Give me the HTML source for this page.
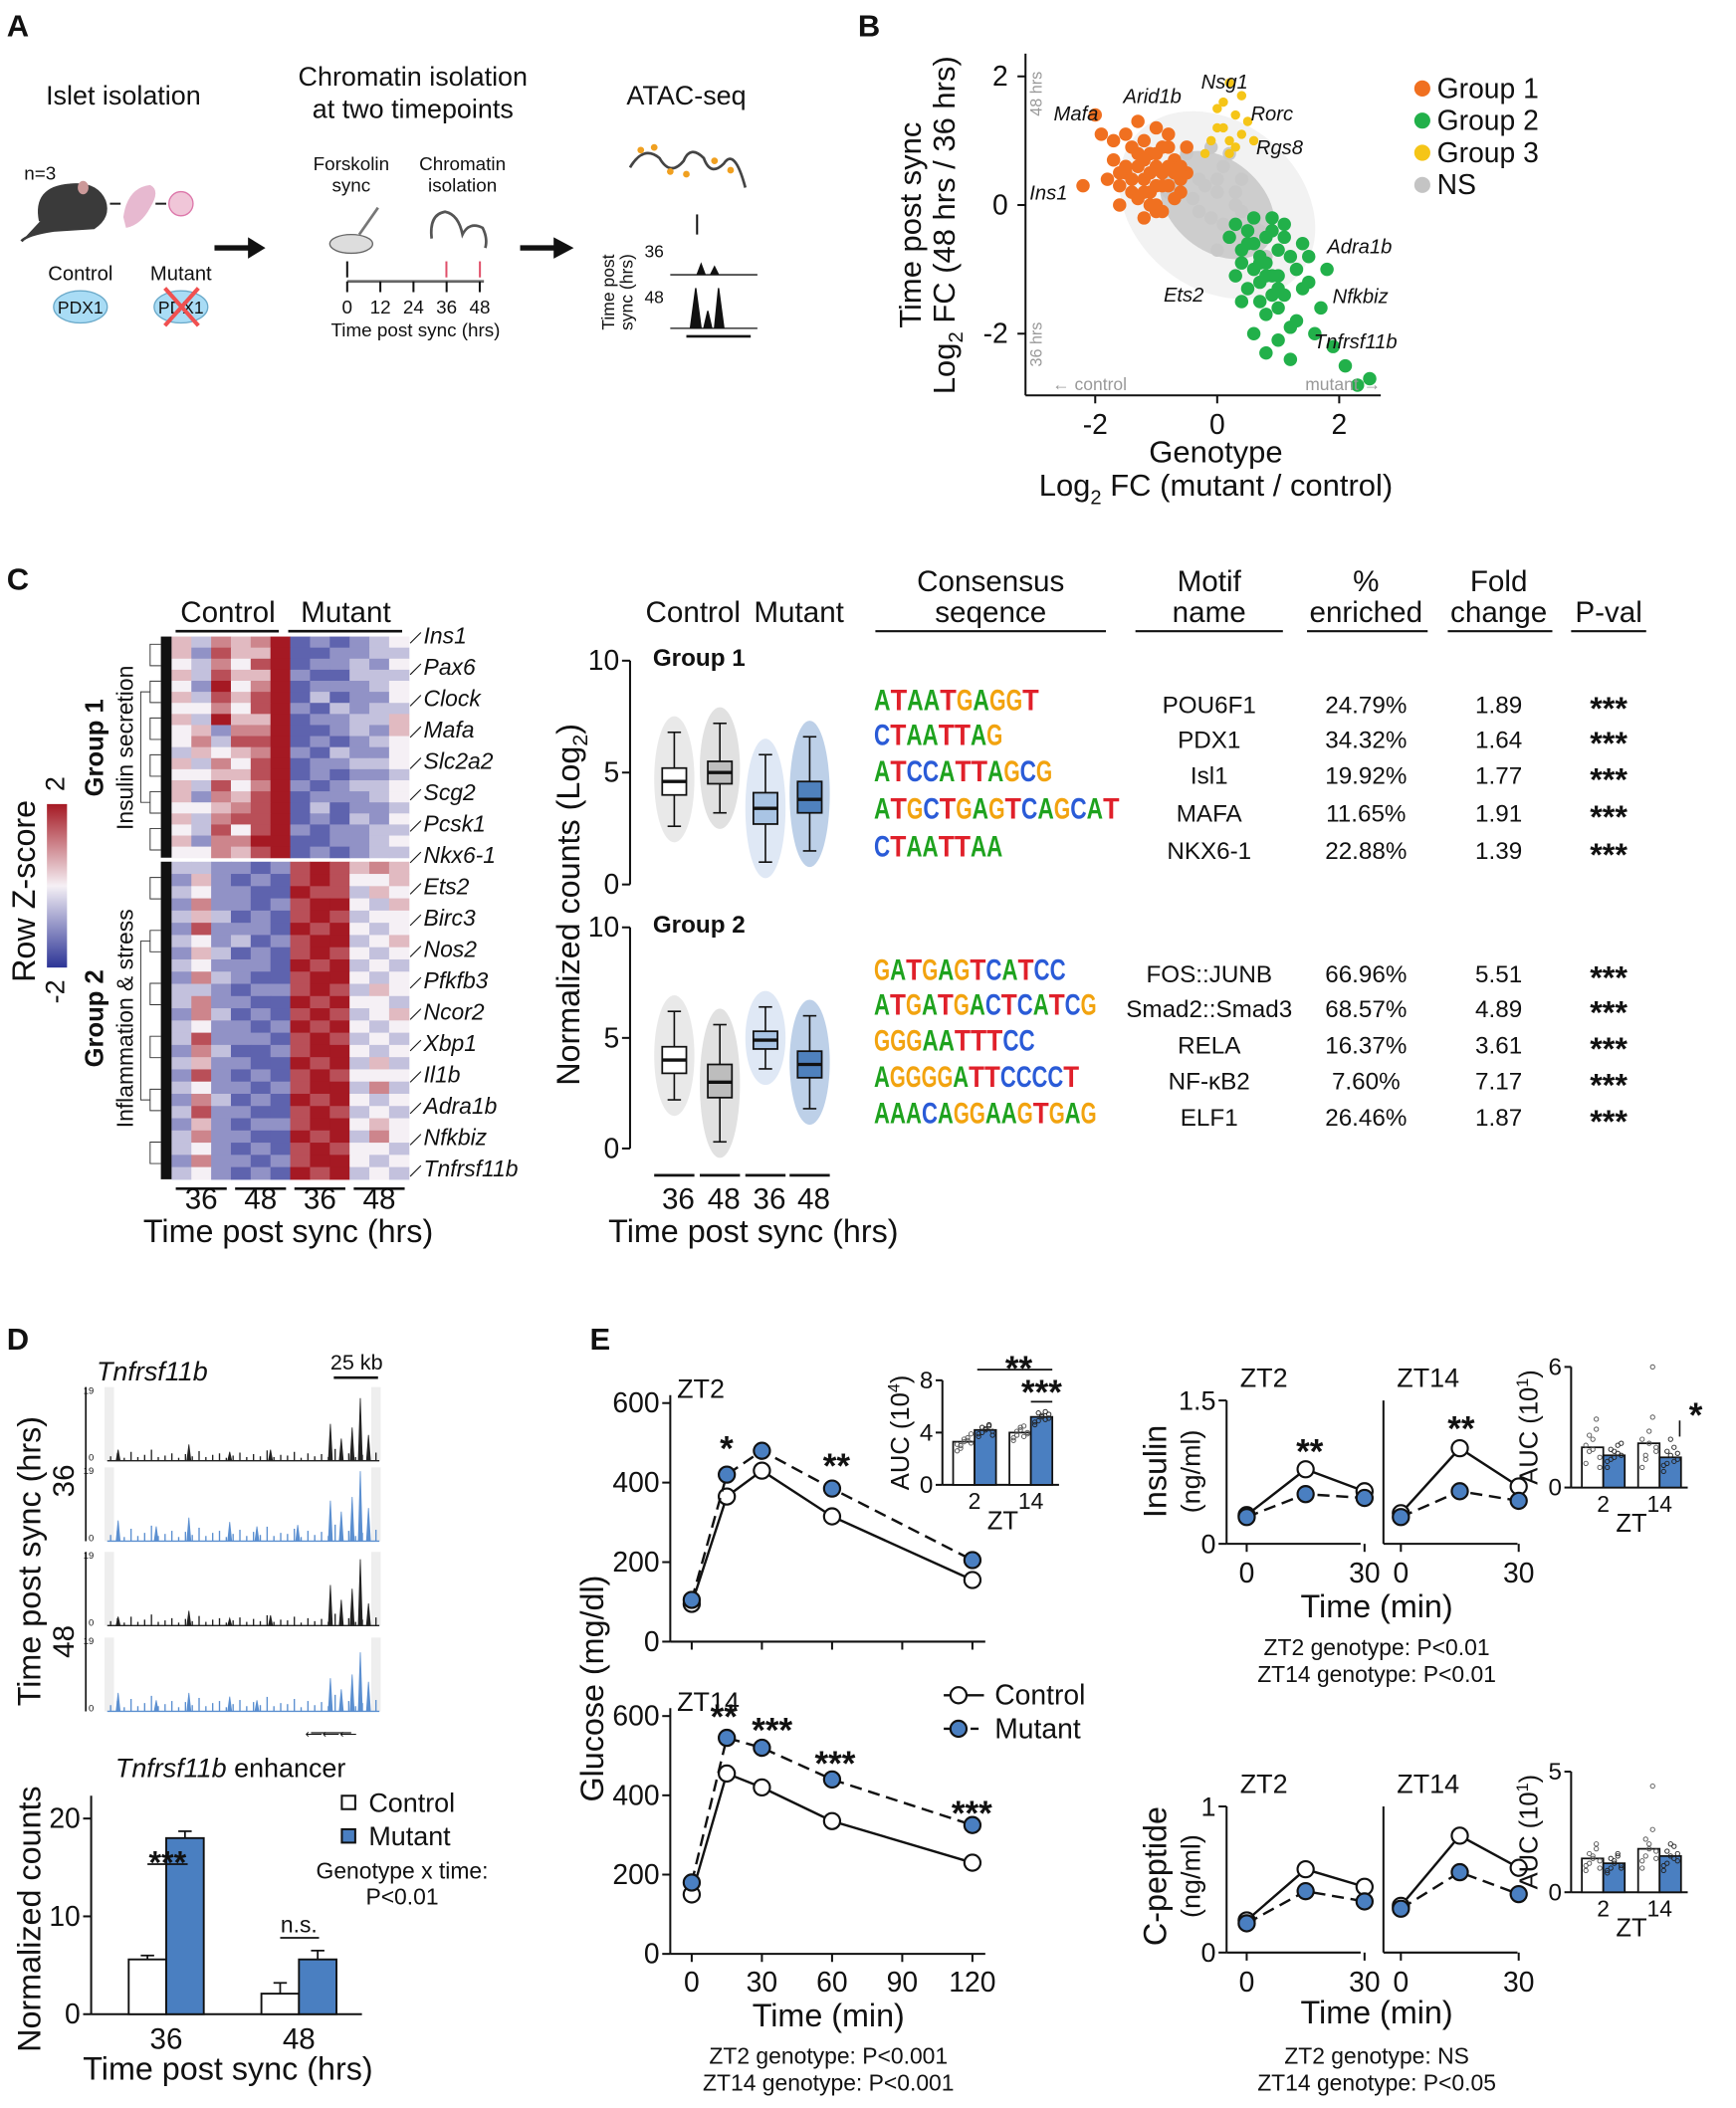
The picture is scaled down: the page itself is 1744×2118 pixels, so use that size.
<!DOCTYPE html>
<html><head><meta charset="utf-8">
<style>
html,body{margin:0;padding:0;background:#fff;}
svg{display:block;font-family:"Liberation Sans",Arial,sans-serif;}
</style></head>
<body>
<svg id="fig" xmlns="http://www.w3.org/2000/svg" viewBox="0 0 1295 1573" width="1744" height="2118" preserveAspectRatio="none">
<rect x="0" y="0" width="1295" height="1573" fill="#fff"/>
</svg>
<script>
const NS='http://www.w3.org/2000/svg';
const fig=document.getElementById('fig');
function el(tag,a,name,parent){
  const e=document.createElementNS(NS,tag);
  for(const k in a) e.setAttribute(k,a[k]);
  
  
  (parent||fig).appendChild(e);
  return e;
}
function tx(x,y,s,size,name,o){
  o=o||{};
  const a={x:x,y:y,'font-size':size,'text-anchor':o.anchor||'middle',fill:o.fill||'#111'};
  if(o.bold) a['font-weight']='bold';
  if(o.italic) a['font-style']='italic';
  if(o.rot) a.transform='rotate(-90 '+x+' '+y+')';
  const e=el('text',a,name);
  e.textContent=s;
  return e;
}
function ln(x1,y1,x2,y2,name,o){
  o=o||{};
  const a={x1:x1,y1:y1,x2:x2,y2:y2,stroke:o.stroke||'#111','stroke-width':o.w||1.5};
  if(o.dash) a['stroke-dasharray']=o.dash;
  return el('line',a,name);
}

/* ================= PANEL A ================= */
tx(5,27,'A',23,'panel-a-label',{anchor:'start',bold:true});
tx(92,78,'Islet isolation',20,'islet-isolation-title');
tx(308,64,'Chromatin isolation',20,'chromatin-isolation-title');
tx(308,88,'at two timepoints',20,'chromatin-isolation-subtitle');
tx(512,78,'ATAC-seq',20,'atac-seq-title');
tx(18,134,'n=3',14,'n-equals-3',{anchor:'start'});
el('path',{d:'M30 165 Q25 140 52 138 Q72 136 78 150 Q82 162 70 170 L40 172 Q20 175 16 180',fill:'#3a3a3a',stroke:'#3a3a3a','stroke-width':2},'mouse-icon');
el('ellipse',{cx:62,cy:140,rx:4,ry:5,fill:'#c99'},'mouse-ear');
el('line',{x1:82,y1:152,x2:90,y2:152,stroke:'#222','stroke-width':1.5},'small-arrow-1');
el('path',{d:'M92 162 Q95 140 112 138 Q120 142 112 155 Q105 168 94 170Z',fill:'#e7b9d0'},'pancreas-icon');
el('line',{x1:116,y1:152,x2:124,y2:152,stroke:'#222','stroke-width':1.5},'small-arrow-2');
el('circle',{cx:135,cy:152,r:9,fill:'#f0c6d8',stroke:'#d7a'},'islet-icon');
tx(60,209,'Control',15,'control-label-a');
tx(135,209,'Mutant',15,'mutant-label-a');
el('ellipse',{cx:60,cy:229,rx:20,ry:12,fill:'#a9dcf5',stroke:'#6aa9c9'},'pdx1-control');
tx(60,234,'PDX1',13,'pdx1-control-text');
el('ellipse',{cx:135,cy:229,rx:20,ry:12,fill:'#a9dcf5',stroke:'#6aa9c9'},'pdx1-mutant');
tx(135,234,'PDX1',13,'pdx1-mutant-text');
ln(123,215,148,243,'red-x-1',{stroke:'#f05050',w:3});
ln(148,215,123,243,'red-x-2',{stroke:'#f05050',w:3});
el('path',{d:'M160 183 L185 183 L185 177 L198 185 L185 193 L185 187 L160 187Z',fill:'#111'},'big-arrow-1');
el('path',{d:'M388 183 L413 183 L413 177 L428 185 L413 193 L413 187 L388 187Z',fill:'#111'},'big-arrow-2');
tx(262,127,'Forskolin',14,'forskolin-label');
tx(262,143,'sync',14,'sync-label');
tx(345,127,'Chromatin',14,'chromatin-label');
tx(345,143,'isolation',14,'isolation-label');
el('ellipse',{cx:262,cy:182,rx:16,ry:7,fill:'#ddd',stroke:'#666'},'culture-dish');
ln(268,175,282,155,'pipette',{stroke:'#777',w:2});
el('path',{d:'M322 178 Q320 160 332 158 Q342 160 345 175 Q350 165 360 170 Q364 178 362 185',fill:'none',stroke:'#555','stroke-width':2},'chromatin-squiggle');
ln(259,195,259,207,'timeline-arrow-0');
ln(333,195,333,207,'timeline-arrow-36',{stroke:'#e0506a'});
ln(358,195,358,207,'timeline-arrow-48',{stroke:'#e0506a'});
ln(259,210,361,210,'timeline-axis',{stroke:'#666',w:2});
const tlTicks=[0,12,24,36,48];
tlTicks.forEach(function(t){
  const x=259+t*2.06;
  ln(x,210,x,218,'timeline-tick');
  tx(x,234,String(t),14,'timeline-tick-label');
});
tx(310,251,'Time post sync (hrs)',14,'timeline-title');
el('path',{d:'M470 125 Q480 108 492 118 Q500 132 510 120 Q515 108 525 118 Q530 132 540 122 Q548 110 556 140',fill:'none',stroke:'#444','stroke-width':2},'atac-chromatin');
[[478,112],[488,110],[500,128],[512,130],[533,120],[545,127]].forEach(function(p){el('circle',{cx:p[0],cy:p[1],r:2.5,fill:'#f0a020'},'tn5-dot');});
ln(520,160,520,175,'atac-arrow');
tx(488,192,'36',13,'atac-36-label');
tx(488,226,'48',13,'atac-48-label');
ln(500,205,565,205,'atac-track-36-base',{w:1});
el('path',{d:'M520 205 L523 197 L526 205 M530 205 L533 199 L536 205',fill:'#111',stroke:'#111'},'atac-track-36-peaks');
ln(500,245,565,245,'atac-track-48-base',{w:1});
el('path',{d:'M515 245 L519 215 L523 245 M525 245 L528 232 L531 245 M533 245 L536 215 L540 245',fill:'#111',stroke:'#111'},'atac-track-48-peaks');
ln(512,251,560,251,'atac-gene-model',{w:2});
tx(458,218,'Time post',13,'atac-y-title-1',{rot:true});
tx(472,218,'sync (hrs)',13,'atac-y-title-2',{rot:true});

/* ================= PANEL B ================= */
const bTicks=[-2,0,2];
const nsX=[-0.6,-0.3,0,0.3,0.6,-0.4,0.1,0.4,-0.1,0.2,-0.5,0.5,0,-0.2,0.3,0.7,-0.7,0.1,0.2,-0.3,0.8,-0.8,0.4,-0.1,0];
const nsY=[0.6,0.4,0.2,0,-0.3,0.1,0.6,0.4,-0.2,-0.5,0.8,-0.6,-0.7,0.3,0.2,-0.4,0.5,-0.3,0.8,-0.1,-0.8,0.2,-0.1,0.9,0.4];
const g1x=[-1.2,-1.0,-0.8,-1.4,-1.1,-0.9,-1.3,-0.7,-1.5,-1.0,-0.6,-1.2,-1.6,-0.8,-1.1,-1.3,-0.9,-1.7,-0.5,-1.0,-1.4,-1.2,-0.7,-1.8,-1.1,-0.9,-1.3,-0.6,-1.5,-1.0,-2.0,-1.9,-2.2,-1.6,-0.8,-1.2,-1.4,-0.5,-1.0,-1.7,-1.3,-0.9,-1.1,-0.7,-1.5,-1.2,-0.8,-1.0,-1.6,-0.6];
const g1y=[0.4,0.6,0.3,0.2,0.8,0.5,0.1,0.7,0.5,0.0,0.4,1.0,0.3,0.9,0.2,0.6,-0.1,0.7,0.5,1.2,0.9,-0.2,0.1,0.4,0.5,0.9,0.8,0.2,1.1,0.3,1.4,1.1,0.3,0.0,0.6,0.7,0.4,0.9,-0.1,1.0,1.3,0.3,0.0,0.5,0.6,0.2,1.1,0.8,0.5,0.6];
const g2x=[0.8,0.6,1.0,0.5,0.9,1.2,0.7,0.4,1.1,0.8,0.3,1.3,0.6,0.9,1.0,0.7,1.5,0.5,0.8,1.2,0.4,1.0,0.6,1.4,0.9,1.1,0.7,1.7,0.3,0.8,1.9,2.1,1.6,2.3,1.2,0.5,1.0,1.3,0.6,0.9,2.5,1.8,0.4,1.1,0.7,1.4,0.2,1.0,0.8,1.5];
const g2y=[-0.9,-0.6,-1.1,-0.4,-1.4,-0.8,-1.2,-0.7,-0.5,-1.7,-0.3,-1.0,-1.0,-0.2,-1.6,-1.5,-1.2,-1.3,-0.5,-1.9,-0.9,-0.7,-2.0,-0.6,-1.1,-1.4,-0.8,-1.6,-1.1,-2.3,-2.2,-2.5,-2.0,-2.8,-2.4,-0.6,-1.3,-1.8,-0.2,-0.4,-2.7,-1.0,-1.5,-0.3,-0.9,-1.3,-0.5,-2.1,-1.1,-0.8];
const g3x=[-0.1,0.1,0.3,0.0,0.2,0.4,0.5,-0.2,0.1,0.3,0.6,0.2,0.0,0.4,0.2];
const g3y=[1.0,1.2,0.9,1.5,1.9,1.1,1.3,0.8,1.6,1.4,1.0,1.0,1.2,1.7,0.8];
function bx(v){return 908+v*45.5;}
function by(v){return 153-v*48;}
tx(640,27,'B',23,'panel-b-label',{anchor:'start',bold:true});
el('ellipse',{cx:bx(0),cy:by(0),rx:80,ry:62,fill:'#f2f2f2',transform:'rotate(40 '+bx(0)+' '+by(0)+')'},'ns-halo');
el('ellipse',{cx:bx(0),cy:by(0),rx:48,ry:34,fill:'#cdcdcd',transform:'rotate(40 '+bx(0)+' '+by(0)+')'},'ns-core');
nsX.forEach(function(v,i){el('circle',{cx:bx(v),cy:by(nsY[i]),r:5,fill:'#c8c8c8'},'ns-point');});
g1x.forEach(function(v,i){el('circle',{cx:bx(v),cy:by(g1y[i]),r:5,fill:'#f07020'},'group1-point');});
g2x.forEach(function(v,i){el('circle',{cx:bx(v),cy:by(g2y[i]),r:5,fill:'#22b04a'},'group2-point');});
g3x.forEach(function(v,i){el('circle',{cx:bx(v),cy:by(g3y[i]),r:3.5,fill:'#f5c518'},'group3-point');});
ln(765,40,765,295,'b-y-axis');
ln(765,295,1030,295,'b-x-axis');
bTicks.forEach(function(t){
  ln(bx(t),295,bx(t),301,'b-x-tick');
  tx(bx(t),324,String(t),21,'b-x-tick-label');
  ln(759,by(t),765,by(t),'b-y-tick');
  tx(752,by(t)+7,String(t),21,'b-y-tick-label',{anchor:'end'});
});
tx(907,345,'Genotype',23,'b-x-title-1');
const bx2=tx(907,370,'',23,'b-x-title-2');
bx2.innerHTML='Log<tspan font-size="15" dy="6">2</tspan><tspan dy="-6"> FC (mutant / control)</tspan>';
tx(687,168,'Time post sync',23,'b-y-title-1',{rot:true});
const by2=tx(712,168,'',23,'b-y-title-2',{rot:true});
by2.innerHTML='Log<tspan font-size="15" dy="6">2</tspan><tspan dy="-6"> FC (48 hrs / 36 hrs)</tspan>';
tx(777,70,'48 hrs',12,'b-48hrs-hint',{rot:true,fill:'#999'});
tx(777,257,'36 hrs',12,'b-36hrs-hint',{rot:true,fill:'#999'});
tx(785,291,'← control',13,'b-control-hint',{anchor:'start',fill:'#999'});
tx(1030,291,'mutant →',13,'b-mutant-hint',{anchor:'end',fill:'#999'});
const bgenes=[['Mafa',786,90],['Arid1b',838,77],['Nsg1',896,66],['Rorc',933,90],['Rgs8',937,115],['Ins1',768,149],['Adra1b',990,189],['Ets2',868,225],['Nfkbiz',994,226],['Tnfrsf11b',980,260]];
bgenes.forEach(function(g){tx(g[1],g[2],g[0],15,'b-gene-label',{anchor:'start',italic:true});});
const legCols=['#f07020','#22b04a','#f5c518','#c4c4c4'];
const legLab=['Group 1','Group 2','Group 3','NS'];
legLab.forEach(function(l,i){
  el('circle',{cx:1061,cy:66+i*24,r:6,fill:legCols[i]},'b-legend-marker');
  tx(1072,73+i*24,l,21,'b-legend-label',{anchor:'start'});
});

/* ================= PANEL C heatmap ================= */
const hmG1=["536568121234","527558112233","436478122324","537558211333","428468122234","537578131224","446478213233","538558122335","452668112325","463778121234","354568213224","536478122334","445578121223","537468212334","526578122234","445678131223","536778121324","437478212233","526688112234","446578121233"];
const hmG2=["332212787565","252121787445","342211877354","262212788435","353121787344","272221878434","342312788345","253121787434","342221878343","263211788434","332122787354","362211878443","263121787345","342212878434","372221787343","263112788434","352211878353","272121787444","342212788363","263121878434","372211787343","252122788454","362211878364","342121787443","262212788434","342121878343"];
const hmGenes=['Ins1','Pax6','Clock','Mafa','Slc2a2','Scg2','Pcsk1','Nkx6-1','Ets2','Birc3','Nos2','Pfkfb3','Ncor2','Xbp1','Il1b','Adra1b','Nfkbiz','Tnfrsf11b'];
function zcol(v){
  const z=(v-4)/4;
  let c;
  if(z<0){const t=-z;c=[245+(44-245)*t,240+(52-240)*t,245+(150-245)*t];}
  else{const t=z;c=[245+(165-245)*t,240+(25-240)*t,245+(35-245)*t];}
  return 'rgb('+c.map(Math.round).join(',')+')';
}
tx(5,440,'C',23,'panel-c-label',{anchor:'start',bold:true});
const hx0=128,hcw=(305-128)/12;
function drawHm(rows,y0,y1,nm){
  const rh=(y1-y0)/rows.length;
  rows.forEach(function(r,i){
    for(let j=0;j<12;j++){
      el('rect',{x:hx0+j*hcw,y:y0+i*rh,width:hcw+0.4,height:rh+0.4,fill:zcol(+r[j])},nm);
    }
  });
  el('rect',{x:120,y:y0,width:8,height:y1-y0,fill:'#111'},'dendrogram-leaves');
  for(let k=0;k<6;k++){
    const yy=y0+(y1-y0)*(k+0.5)/6;
    el('path',{d:'M120 '+(yy-8)+' H112 V'+(yy+8)+' H120',fill:'none',stroke:'#333','stroke-width':0.7},'dendrogram-branch');
  }
  el('path',{d:'M112 '+(y0+(y1-y0)*0.25)+' H105 V'+(y0+(y1-y0)*0.75)+' H112',fill:'none',stroke:'#333','stroke-width':0.7},'dendrogram-root');
}
drawHm(hmG1,475,640,'heatmap-cell-group1');
drawHm(hmG2,643,880,'heatmap-cell-group2');
tx(170,464,'Control',22,'heatmap-control-header');
tx(258,464,'Mutant',22,'heatmap-mutant-header');
ln(131,471,208,471,'heatmap-control-bar',{w:2});
ln(215,471,300,471,'heatmap-mutant-bar',{w:2});
const hmTimes=['36','48','36','48'];
hmTimes.forEach(function(t,i){
  const c=hx0+hcw*(1.5+3*i);
  ln(c-19,887,c+19,887,'heatmap-time-bar',{w:2});
  tx(c,902,t,22,'heatmap-time-label');
});
tx(215,927,'Time post sync (hrs)',24,'heatmap-x-title');
hmGenes.forEach(function(g,i){
  const y=474+i*23.4;
  tx(316,y+6,g,17,'heatmap-gene-label',{anchor:'start',italic:true});
  ln(306,y+6,314,y-2,'heatmap-gene-leader',{w:0.8});
});
const cbDefs=el('defs',{},'defs');
const lg=el('linearGradient',{id:'zgrad',x1:0,y1:0,x2:0,y2:1},'zscore-gradient',cbDefs);
[['0%','rgb(165,25,35)'],['50%','rgb(245,240,245)'],['100%','rgb(44,52,150)']].forEach(function(s){el('stop',{offset:s[0],'stop-color':s[1]},'gradient-stop',lg);});
el('rect',{x:35,y:600,width:15,height:122,fill:'url(#zgrad)'},'zscore-colorbar');
tx(48,585,'2',20,'colorbar-max',{rot:true});
tx(48,740,'-2',20,'colorbar-min',{rot:true});
tx(26,665,'Row Z-score',24,'colorbar-title',{rot:true});
tx(77,558,'Group 1',19,'group1-label',{rot:true,bold:true});
tx(99,558,'Insulin secretion',17,'group1-sublabel',{rot:true});
tx(77,760,'Group 2',19,'group2-label',{rot:true,bold:true});
tx(99,760,'Inflammation & stress',17,'group2-sublabel',{rot:true});

/* ================= PANEL C boxplots ================= */
const boxCats=['Control 36','Control 48','Mutant 36','Mutant 48'];
const box1Med=[4.6,5.0,3.4,3.8], box1Q1=[4.0,4.5,2.7,3.2], box1Q3=[5.2,5.5,4.1,4.6], box1Lo=[2.6,3.2,1.0,1.5], box1Hi=[6.8,7.2,5.8,6.6];
const box2Med=[4.0,3.0,4.9,3.8], box2Q1=[3.4,2.3,4.5,3.2], box2Q3=[4.6,3.8,5.3,4.4], box2Lo=[2.2,0.3,3.6,1.8], box2Hi=[6.2,5.6,6.4,6.0];
const boxFill=['#ffffff','#bdbdbd','#a9c4e4','#4f81bd'];
const jitFill=['#cfcfcf','#bdbdbd','#b8cde8','#6d97cc'];
const boxTicks=[0,5,10];
const boxX=[503,537,571,604];
function drawBox(y0,scale,med,q1,q3,lo,hi,title,nm){
  const Y=function(v){return y0-v*scale;};
  ln(470,Y(0),470,Y(10),nm+'-y-axis');
  boxTicks.forEach(function(t){ln(464,Y(t),470,Y(t),nm+'-y-tick');tx(462,Y(t)+7,String(t),21,nm+'-y-tick-label',{anchor:'end'});});
  tx(487,Y(10)+4,title,18,nm+'-title',{anchor:'start',bold:true});
  boxCats.forEach(function(c,i){
    const x=boxX[i];
    el('ellipse',{cx:x,cy:Y((lo[i]+hi[i])/2),rx:15,ry:(Y(lo[i])-Y(hi[i]))/2+12,fill:jitFill[i],opacity:0.45},nm+'-jitter-cloud');
    ln(x,Y(hi[i]),x,Y(q3[i]),nm+'-whisker',{w:1.2});
    ln(x,Y(q1[i]),x,Y(lo[i]),nm+'-whisker',{w:1.2});
    ln(x-5,Y(hi[i]),x+5,Y(hi[i]),nm+'-whisker-cap',{w:1.2});
    ln(x-5,Y(lo[i]),x+5,Y(lo[i]),nm+'-whisker-cap',{w:1.2});
    el('rect',{x:x-9,y:Y(q3[i]),width:18,height:Y(q1[i])-Y(q3[i]),fill:boxFill[i],stroke:'#111','stroke-width':1.3},nm+'-box');
    ln(x-9,Y(med[i]),x+9,Y(med[i]),nm+'-median',{w:2.5});
  });
}
drawBox(660,16.7,box1Med,box1Q1,box1Q3,box1Lo,box1Hi,'Group 1','boxplot-group1');
drawBox(857,16.5,box2Med,box2Q1,box2Q3,box2Lo,box2Hi,'Group 2','boxplot-group2');
tx(517,464,'Control',22,'boxplot-control-header');
tx(596,464,'Mutant',22,'boxplot-mutant-header');
['36','48','36','48'].forEach(function(t,i){
  ln(boxX[i]-15,877,boxX[i]+15,877,'boxplot-time-bar',{w:2});
  tx(boxX[i]+3,902,t,22,'boxplot-time-label');
});
tx(562,927,'Time post sync (hrs)',24,'boxplot-x-title');
const bt=tx(432,675,'',24,'boxplot-y-title',{rot:true});
bt.innerHTML='Normalized counts (Log<tspan font-size="16" dy="6">2</tspan><tspan dy="-6">)</tspan>';

/* ================= Motif table ================= */
const hdr=[['Consensus','seqence',739,653,825],['Motif','name',902,847,957],['%','enriched',1019,975,1065],['Fold','change',1118,1080,1158],['','P-val',1200,1172,1228]];
hdr.forEach(function(h){
  if(h[0]) tx(h[2],441,h[0],22,'table-header-line1');
  tx(h[2],464,h[1],22,'table-header-line2');
  ln(h[3],471,h[4],471,'table-header-rule',{w:1.5});
});
const motifSeq=['ATAATGAGGT','CTAATTAG','ATCCATTAGCG','ATGCTGAGTCAGCAT','CTAATTAA','GATGAGTCATCC','ATGATGACTCATCG','GGGAATTTCC','AGGGGATTCCCCT','AAACAGGAAGTGAG'];
const motifW=[123,96,133,183,96,143,166,120,153,166];
const motifNames=['POU6F1','PDX1','Isl1','MAFA','NKX6-1','FOS::JUNB','Smad2::Smad3','RELA','NF-κB2','ELF1'];
const motifPct=['24.79%','34.32%','19.92%','11.65%','22.88%','66.96%','68.57%','16.37%','7.60%','26.46%'];
const motifFold=['1.89','1.64','1.77','1.91','1.39','5.51','4.89','3.61','7.17','1.87'];
const motifRowY=[525,551,578,606,634,726,752,779,806,833];
const baseCol={A:'#1ea21e',C:'#2a5bd7',G:'#f2a30f',T:'#e0202a'};
motifSeq.forEach(function(s,i){
  const y=motifRowY[i];
  const lw=motifW[i]/s.length;
  for(let k=0;k<s.length;k++){
    const t=tx(652+k*lw,y+5,s[k],22,'motif-logo-letter',{anchor:'start',bold:true,fill:baseCol[s[k]]});
    t.setAttribute('textLength',lw);
    t.setAttribute('lengthAdjust','spacingAndGlyphs');
  }
  tx(902,y+7,motifNames[i],18,'motif-name');
  tx(1019,y+7,motifPct[i],18,'motif-percent');
  tx(1118,y+7,motifFold[i],18,'motif-fold');
  tx(1200,y+12,'***',24,'motif-pval',{bold:true});
});

/* ================= PANEL D ================= */
tx(5,1007,'D',23,'panel-d-label',{anchor:'start',bold:true});
tx(72,1030,'Tnfrsf11b',20,'d-gene-title',{anchor:'start',italic:true});
tx(266,1022,'25 kb',16,'d-scale-label');
ln(249,1028,282,1028,'d-scale-bar',{w:2});
const trackTop=[1035,1095,1158,1222];
const trackH=55;
const trackCol=['#222','#5b8fd0','#222','#5b8fd0'];
const noiseLvl=[0.06,0.1,0.04,0.12,0.05,0.08,0.15,0.05,0.07,0.1,0.04,0.09,0.06,0.13,0.05,0.08,0.1,0.04,0.07,0.11,0.05,0.09,0.06,0.14,0.05,0.08,0.07,0.12,0.04,0.1,0.06,0.09,0.05,0.16,0.07,0.1,0.05,0.08,0.06,0.11];
const peaks0=[[0.04,0.15],[0.3,0.22],[0.45,0.12],[0.6,0.15],[0.82,0.5],[0.86,0.3],[0.9,0.45],[0.93,0.85],[0.96,0.35]];
const peaks1=[[0.04,0.28],[0.18,0.2],[0.3,0.32],[0.45,0.26],[0.55,0.2],[0.7,0.22],[0.82,0.55],[0.86,0.4],[0.9,0.6],[0.93,0.95],[0.96,0.45]];
const peaks2=[[0.04,0.12],[0.3,0.2],[0.45,0.1],[0.6,0.14],[0.82,0.55],[0.86,0.35],[0.9,0.5],[0.93,0.9],[0.96,0.3]];
const peaks3=[[0.04,0.25],[0.18,0.15],[0.3,0.25],[0.45,0.2],[0.55,0.15],[0.82,0.45],[0.86,0.3],[0.9,0.5],[0.93,0.8],[0.96,0.4]];
const allPeaks=[peaks0,peaks1,peaks2,peaks3];
const tx0=80,tx1=283;
allPeaks.forEach(function(pk,ti){
  const top=trackTop[ti],base=top+trackH;
  el('rect',{x:tx0-2,y:top,width:7,height:trackH,fill:'#eee'},'d-track-shade-left');
  el('rect',{x:tx1-6,y:top,width:7,height:trackH,fill:'#eee'},'d-track-shade-right');
  tx(70,top+5,'19',7,'d-track-max',{anchor:'end'});
  tx(70,base,'0',7,'d-track-zero',{anchor:'end'});
  ln(tx0,base,tx1,base,'d-track-baseline',{stroke:trackCol[ti],w:1});
  noiseLvl.forEach(function(n,k){
    const x=tx0+(k+0.5)*(tx1-tx0)/noiseLvl.length;
    ln(x,base,x,base-n*trackH*(ti%2?1.4:1),'d-track-noise',{stroke:trackCol[ti],w:1});
  });
  pk.forEach(function(p){
    const x=tx0+p[0]*(tx1-tx0);
    el('path',{d:'M'+(x-1.5)+' '+base+' L'+x+' '+(base-p[1]*trackH)+' L'+(x+1.5)+' '+base+'Z',fill:trackCol[ti],stroke:trackCol[ti],'stroke-width':0.6},'d-track-peak');
  });
});
ln(232,1293,262,1293,'d-gene-model',{w:1});
tx(247,1297,'⟵⟵⟵',9,'d-gene-arrows');
tx(30,1165,'Time post sync (hrs)',24,'d-y-title',{rot:true});
tx(55,1105,'36',22,'d-36-label',{rot:true});
tx(55,1225,'48',22,'d-48-label',{rot:true});
ln(64,1035,64,1150,'d-36-bracket',{w:1.2});
ln(64,1158,64,1277,'d-48-bracket',{w:1.2});
/* bar chart */
const dGroups=['36','48'];
const dCtrl=[5.6,2.1], dMut=[18.0,5.6], dCtrlErr=[0.4,1.1], dMutErr=[0.7,0.9];
const dTicks=[0,10,20];
function dy(v){return 1503-v*7.3;}
const dX=[124,223];
const dt=tx(172,1326,'',20,'d-bar-title');
dt.innerHTML='<tspan font-style="italic">Tnfrsf11b</tspan> enhancer';
ln(68,dy(0),68,1340,'d-bar-y-axis');
ln(68,dy(0),270,dy(0),'d-bar-x-axis');
dTicks.forEach(function(t){ln(62,dy(t),68,dy(t),'d-bar-y-tick');tx(60,dy(t)+7,String(t),21,'d-bar-y-tick-label',{anchor:'end'});});
dGroups.forEach(function(g,i){
  const c=dX[i];
  ln(c-14,dy(dCtrl[i]),c-14,dy(dCtrl[i]+dCtrlErr[i]),'d-ctrl-error',{w:1.3});
  ln(c-19,dy(dCtrl[i]+dCtrlErr[i]),c-9,dy(dCtrl[i]+dCtrlErr[i]),'d-ctrl-error-cap',{w:1.3});
  el('rect',{x:c-28,y:dy(dCtrl[i]),width:28,height:dy(0)-dy(dCtrl[i]),fill:'#fff',stroke:'#111','stroke-width':1.4},'d-bar-control');
  ln(c+14,dy(dMut[i]),c+14,dy(dMut[i]+dMutErr[i]),'d-mut-error',{w:1.3});
  ln(c+9,dy(dMut[i]+dMutErr[i]),c+19,dy(dMut[i]+dMutErr[i]),'d-mut-error-cap',{w:1.3});
  el('rect',{x:c,y:dy(dMut[i]),width:28,height:dy(0)-dy(dMut[i]),fill:'#4a7fc1',stroke:'#111','stroke-width':1.4},'d-bar-mutant');
  tx(c,1529,g,22,'d-bar-x-label');
});
ln(110,1391,140,1391,'d-sig-bracket-36',{w:1.3});
tx(125,1398,'***',24,'d-sig-36',{bold:true});
ln(209,1446,238,1446,'d-sig-bracket-48',{w:1.3});
tx(223,1442,'n.s.',17,'d-sig-48');
tx(170,1552,'Time post sync (hrs)',24,'d-bar-x-title');
tx(30,1432,'Normalized counts',24,'d-bar-y-title',{rot:true});
el('rect',{x:255,y:1340,width:10,height:10,fill:'#fff',stroke:'#111','stroke-width':1.5},'d-legend-control-swatch');
tx(275,1352,'Control',20,'d-legend-control',{anchor:'start'});
el('rect',{x:255,y:1365,width:10,height:10,fill:'#4a7fc1',stroke:'#111','stroke-width':1.5},'d-legend-mutant-swatch');
tx(275,1377,'Mutant',20,'d-legend-mutant',{anchor:'start'});
tx(300,1402,'Genotype x time:',17,'d-stat-1');
tx(300,1421,'P<0.01',17,'d-stat-2');

/* ================= PANEL E ================= */
tx(440,1007,'E',23,'panel-e-label',{anchor:'start',bold:true});
const gTimes=[0,15,30,60,120];
const glu2Ctrl=[95,365,430,315,155], glu2Mut=[105,420,480,385,205];
const glu14Ctrl=[150,455,420,335,230], glu14Mut=[180,545,520,440,325];
const gluTicks=[0,200,400,600];
const timeTicks=[0,30,60,90,120];
function gx(t){return 516+t*1.745;}
function marker(x,y,filled,nm){
  el('circle',{cx:x,cy:y,r:6,fill:filled?'#4a7fc1':'#fff',stroke:'#111','stroke-width':1.6},nm);
}
function drawSeries(times,vals,X,Y,filled,nm){
  const d=times.map(function(t,i){return (i?'L':'M')+X(t)+' '+Y(vals[i]);}).join(' ');
  const a={d:d,fill:'none',stroke:'#111','stroke-width':1.8};
  if(filled) a['stroke-dasharray']='9 5';
  el('path',a,nm+'-line');
  times.forEach(function(t,i){marker(X(t),Y(vals[i]),filled,nm+'-point');});
}
function gluPanel(y0,scale,ctrl,mut,title,nm,showX){
  const Y=function(v){return y0-v*scale;};
  ln(500,Y(0),500,Y(620),nm+'-y-axis');
  ln(500,Y(0),735,Y(0),nm+'-x-axis');
  gluTicks.forEach(function(t){ln(494,Y(t),500,Y(t),nm+'-y-tick');tx(492,Y(t)+7,String(t),21,nm+'-y-tick-label',{anchor:'end'});});
  timeTicks.forEach(function(t){ln(gx(t),Y(0),gx(t),Y(0)+6,nm+'-x-tick');if(showX)tx(gx(t),Y(0)+28,String(t),21,nm+'-x-tick-label');});
  tx(505,Y(620)+2,title,20,nm+'-title',{anchor:'start'});
  drawSeries(gTimes,ctrl,gx,Y,false,nm+'-control');
  drawSeries(gTimes,mut,gx,Y,true,nm+'-mutant');
  return Y;
}
gluPanel(1225,0.2967,glu2Ctrl,glu2Mut,'ZT2','glucose-zt2',false);
gluPanel(1458,0.2958,glu14Ctrl,glu14Mut,'ZT14','glucose-zt14',true);
tx(542,1090,'*',26,'glu-zt2-star-15',{bold:true});
tx(624,1103,'**',26,'glu-zt2-star-60',{bold:true});
tx(540,1290,'**',26,'glu-zt14-star-15',{bold:true});
tx(576,1300,'***',26,'glu-zt14-star-30',{bold:true});
tx(623,1325,'***',26,'glu-zt14-star-60',{bold:true});
tx(725,1362,'***',26,'glu-zt14-star-120',{bold:true});
tx(618,1512,'Time (min)',24,'glucose-x-title');
tx(450,1260,'Glucose (mg/dl)',24,'glucose-y-title',{rot:true});
ln(704,1265,734,1265,'legend-control-line',{w:1.8});
marker(715,1265,false,'legend-control-marker');
tx(742,1272,'Control',21,'legend-control-label',{anchor:'start'});
ln(704,1290,734,1290,'legend-mutant-line',{w:1.8,dash:'6 4'});
marker(715,1290,true,'legend-mutant-marker');
tx(742,1297,'Mutant',21,'legend-mutant-label',{anchor:'start'});
tx(618,1540,'ZT2 genotype: P<0.001',17,'glucose-stat-zt2');
tx(618,1560,'ZT14 genotype: P<0.001',17,'glucose-stat-zt14');

/* AUC insets */
const aucCats=['2','14'];
function aucPanel(xA,yBase,topVal,scale,ctrl,mut,dotsC,dotsM,ticks,titleExp,nm){
  const Y=function(v){return yBase-v*scale;};
  ln(xA,Y(0),xA,Y(topVal),nm+'-y-axis');
  ln(xA,Y(0),xA+87,Y(0),nm+'-x-axis');
  ticks.forEach(function(t){ln(xA-5,Y(t),xA,Y(t),nm+'-y-tick');tx(xA-7,Y(t)+6,String(t),18,nm+'-y-tick-label',{anchor:'end'});});
  aucCats.forEach(function(c,i){
    const x0=xA+8+i*42;
    el('rect',{x:x0,y:Y(ctrl[i]),width:16,height:Y(0)-Y(ctrl[i]),fill:'#fff',stroke:'#111','stroke-width':1.3},nm+'-bar-control');
    el('rect',{x:x0+16,y:Y(mut[i]),width:16,height:Y(0)-Y(mut[i]),fill:'#4a7fc1',stroke:'#111','stroke-width':1.3},nm+'-bar-mutant');
    dotsC[i].forEach(function(v,k){el('circle',{cx:x0+3+(k%5)*2.6,cy:Y(v),r:1.6,fill:'none',stroke:'#555','stroke-width':0.7},nm+'-dot-control');});
    dotsM[i].forEach(function(v,k){el('circle',{cx:x0+19+(k%5)*2.6,cy:Y(v),r:1.6,fill:'none',stroke:'#222','stroke-width':0.7},nm+'-dot-mutant');});
    tx(x0+16,Y(0)+18,c,17,nm+'-x-label');
  });
  tx(xA+45,Y(0)+33,'ZT',19,nm+'-x-title');
  const t=tx(xA-25,(Y(0)+Y(topVal))/2,'',19,nm+'-y-title',{rot:true});
  t.innerHTML='AUC (10<tspan font-size="12" dy="-7">'+titleExp+'</tspan><tspan dy="7">)</tspan>';
}
const aucGluCtrl=[3.3,4.0], aucGluMut=[4.2,5.2];
const aucGluDotC=[[2.6,3.0,3.3,3.6,3.9,3.1,2.8,3.5,3.4,3.2],[3.4,3.8,4.2,4.5,3.9,3.6,4.1,4.4,3.7,4.0]];
const aucGluDotM=[[3.7,4.0,4.3,4.6,4.1,3.9,4.4,4.2,4.5,3.8],[4.6,4.9,5.3,5.6,5.1,4.8,5.5,5.2,5.0,5.4]];
aucPanel(703,1108,8,9.75,aucGluCtrl,aucGluMut,aucGluDotC,aucGluDotM,[0,4,8],'4','auc-glucose');
ln(729,1022,785,1022,'auc-glucose-bracket-1',{w:1.3});
tx(760,1030,'**',26,'auc-glucose-sig-1',{bold:true});
ln(769,1046,785,1046,'auc-glucose-bracket-2',{w:1.3});
tx(777,1048,'***',26,'auc-glucose-sig-2',{bold:true});

/* insulin & c-peptide */
const iTimes=[0,15,30];
const ins2Ctrl=[0.30,0.78,0.55], ins2Mut=[0.28,0.52,0.48];
const ins14Ctrl=[0.32,1.00,0.60], ins14Mut=[0.28,0.55,0.45];
const cp2Ctrl=[0.22,0.57,0.45], cp2Mut=[0.20,0.42,0.35];
const cp14Ctrl=[0.32,0.80,0.58], cp14Mut=[0.30,0.55,0.40];
function smallPanel(xA,xOff,yBase,scale,topVal,ctrl,mut,title,nm,showYLabels,ticks){
  const X=function(t){return xOff+t*2.93;};
  const Y=function(v){return yBase-v*scale;};
  ln(xA,Y(0),xA,Y(topVal),nm+'-y-axis');
  ln(xA,Y(0),xA+100,Y(0),nm+'-x-axis');
  if(showYLabels) ticks.forEach(function(t){ln(xA-6,Y(t),xA,Y(t),nm+'-y-tick');tx(xA-8,Y(t)+7,String(t),20,nm+'-y-tick-label',{anchor:'end'});});
  [0,30].forEach(function(t){ln(X(t),Y(0),X(t),Y(0)+6,nm+'-x-tick');tx(X(t),Y(0)+29,String(t),21,nm+'-x-tick-label');});
  tx(xA+10,Y(topVal)-10,title,20,nm+'-title',{anchor:'start'});
  drawSeries(iTimes,ctrl,X,Y,false,nm+'-control');
  drawSeries(iTimes,mut,X,Y,true,nm+'-mutant');
}
smallPanel(915,930,1152,71.3,1.5,ins2Ctrl,ins2Mut,'ZT2','insulin-zt2',true,[0,1.5]);
smallPanel(1032,1045,1152,71.3,1.5,ins14Ctrl,ins14Mut,'ZT14','insulin-zt14',false,[]);
tx(977,1092,'**',26,'insulin-zt2-star',{bold:true});
tx(1090,1075,'**',26,'insulin-zt14-star',{bold:true});
tx(870,1098,'Insulin',24,'insulin-y-title-1',{rot:true});
tx(895,1098,'(ng/ml)',20,'insulin-y-title-2',{rot:true});
tx(1027,1207,'Time (min)',24,'insulin-x-title');
tx(1027,1235,'ZT2 genotype: P<0.01',17,'insulin-stat-zt2');
tx(1027,1255,'ZT14 genotype: P<0.01',17,'insulin-stat-zt14');
const aucInsCtrl=[2.0,2.2], aucInsMut=[1.6,1.5];
const aucInsDotC=[[1.2,1.8,2.4,2.9,1.5,2.1,2.6,1.9,3.4,1.0],[1.0,1.6,2.8,3.5,2.0,2.4,1.4,2.2,6.0,1.8]];
const aucInsDotM=[[1.0,1.4,1.8,2.1,1.6,1.3,1.9,1.5,1.7,2.2],[0.8,1.2,1.6,2.0,1.4,1.1,1.8,2.4,1.3,1.7]];
aucPanel(1172,1110,6,15,aucInsCtrl,aucInsMut,aucInsDotC,aucInsDotM,[0,6],'1','auc-insulin');
ln(1253,1060,1253,1072,'auc-insulin-bracket',{w:1.2});
tx(1265,1065,'*',26,'auc-insulin-sig',{bold:true});

smallPanel(915,930,1457,109,1,cp2Ctrl,cp2Mut,'ZT2','cpeptide-zt2',true,[0,1]);
smallPanel(1032,1045,1457,109,1,cp14Ctrl,cp14Mut,'ZT14','cpeptide-zt14',false,[]);
tx(870,1400,'C-peptide',24,'cpeptide-y-title-1',{rot:true});
tx(895,1400,'(ng/ml)',20,'cpeptide-y-title-2',{rot:true});
tx(1027,1510,'Time (min)',24,'cpeptide-x-title');
tx(1027,1540,'ZT2 genotype: NS',17,'cpeptide-stat-zt2');
tx(1027,1560,'ZT14 genotype: P<0.05',17,'cpeptide-stat-zt14');
const aucCpCtrl=[1.4,1.8], aucCpMut=[1.2,1.5];
const aucCpDotC=[[0.9,1.2,1.5,1.8,1.3,1.1,1.6,1.4,2.0,1.0],[1.0,1.5,2.0,2.6,1.7,1.3,2.2,1.8,4.4,1.4]];
const aucCpDotM=[[0.8,1.0,1.3,1.5,1.1,0.9,1.4,1.2,1.6,1.0],[0.9,1.2,1.5,1.9,1.3,1.1,1.7,2.0,1.4,1.6]];
aucPanel(1172,1412,5,18,aucCpCtrl,aucCpMut,aucCpDotC,aucCpDotM,[0,5],'1','auc-cpeptide');
</script>
</body></html>
